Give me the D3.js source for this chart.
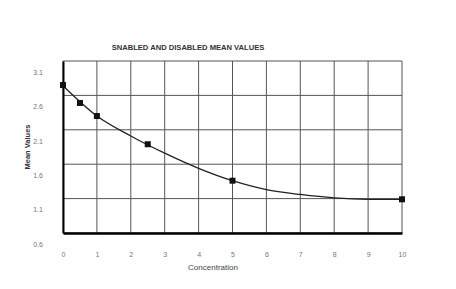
<!DOCTYPE html>
<html><head><meta charset="utf-8">
<script src="https://cdn.jsdelivr.net/npm/d3@7"></script>
<style>body{margin:0;background:#fff}svg{display:block}</style>
</head><body>
<script>
const title = "SNABLED AND DISABLED MEAN VALUES";
const xLabel = "Concentration";
const yLabel = "Mean Values";
const xTicks = [0,1,2,3,4,5,6,7,8,9,10];
const yTicks = [0.6,1.1,1.6,2.1,2.6,3.1];
const pointX = [0, 0.5, 1, 2.5, 5, 10];
const pointY = [2.75, 2.49, 2.30, 1.89, 1.36, 1.09];
const curveX = [0,1,2,3,4,5,6,7,8,9,10];
const curveY = [2.74,2.30,2.01,1.76,1.54,1.36,1.23,1.16,1.11,1.09,1.09];

const W=456,H=289;
const m={l:63,r:54,t:61,b:56};
const svg=d3.select("body").append("svg").attr("width",W).attr("height",H);
const x=d3.scaleLinear().domain([0,10]).range([m.l,W-m.r]);
const y=d3.scaleLinear().domain([0.6,3.1]).range([H-m.b,m.t]);
const font="Liberation Sans, Arial";

// grid
svg.append("g").selectAll("line").data(xTicks).join("line")
  .attr("x1",d=>x(d)).attr("x2",d=>x(d)).attr("y1",y(3.1)).attr("y2",y(0.6))
  .attr("stroke","#555").attr("stroke-width",1);
svg.append("g").selectAll("line").data(yTicks).join("line")
  .attr("x1",x(0)).attr("x2",x(10)).attr("y1",d=>y(d)).attr("y2",d=>y(d))
  .attr("stroke","#555").attr("stroke-width",1);

// axes
const xa=svg.append("g").attr("transform",`translate(0,${y(0.6)})`)
  .call(d3.axisBottom(x).tickValues(xTicks).tickSize(0).tickPadding(19));
xa.select(".domain").attr("stroke","#000").attr("stroke-width",2.5);
xa.selectAll("text").attr("fill","#777").style("font-family",font).style("font-size","7px");
const ya=svg.append("g").attr("transform",`translate(${x(0)},0)`)
  .call(d3.axisLeft(y).tickValues(yTicks).tickSize(0).tickPadding(20).tickFormat(d3.format(".1f")));
ya.select(".domain").attr("stroke","#000").attr("stroke-width",2);
ya.selectAll("text").attr("fill","#777").attr("dy","1.9em").style("font-family",font).style("font-size","7px");

// curve
const line=d3.line().x((d,i)=>x(curveX[i])).y(d=>y(d)).curve(d3.curveMonotoneX);
svg.append("path").attr("d",line(curveY)).attr("fill","none").attr("stroke","#222").attr("stroke-width",1.3);

// points
svg.append("g").selectAll("rect").data(pointY).join("rect")
  .attr("x",(d,i)=>x(pointX[i])-3).attr("y",d=>y(d)-3).attr("width",6).attr("height",6).attr("fill","#111");

// title & labels
svg.append("text").attr("x",188).attr("y",50).attr("text-anchor","middle")
  .style("font-family",font).style("font-size","7.6px").style("font-weight","bold").attr("fill","#333").text(title);
svg.append("text").attr("x",213).attr("y",270).attr("text-anchor","middle")
  .style("font-family",font).style("font-size","8px").attr("fill","#444").text(xLabel);
svg.append("text").attr("transform",`translate(30,147) rotate(-90)`).attr("text-anchor","middle")
  .style("font-family",font).style("font-size","7.5px").style("font-weight","bold").attr("fill","#333").text(yLabel);
</script>
</body></html>
